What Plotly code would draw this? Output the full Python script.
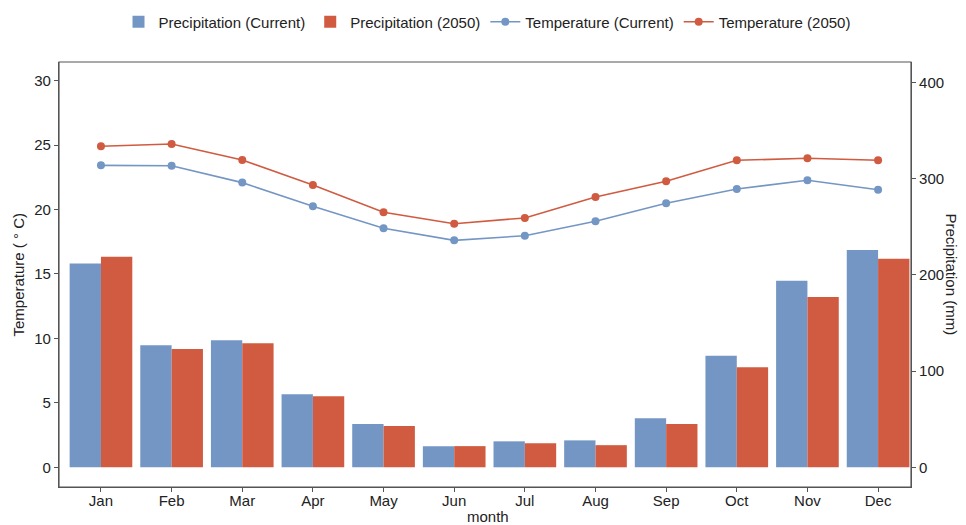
import plotly.graph_objects as go

months = ["Jan", "Feb", "Mar", "Apr", "May", "Jun", "Jul", "Aug", "Sep", "Oct", "Nov", "Dec"]
precip_current = [212, 127, 132, 76, 45, 22, 27, 28, 51, 116, 194, 226]
precip_2050 = [219, 123, 129, 74, 43, 22, 25, 23, 45, 104, 177, 217]
temp_current = [23.43, 23.40, 22.09, 20.25, 18.55, 17.61, 17.97, 19.09, 20.49, 21.60, 22.27, 21.54]
temp_2050 = [24.91, 25.09, 23.85, 21.90, 19.79, 18.90, 19.35, 20.97, 22.19, 23.82, 23.98, 23.82]

temp_ticks = [0, 5, 10, 15, 20, 25, 30]
precip_ticks = [0, 100, 200, 300, 400]

BLUE = "#7496C4"
RED = "#D05B40"
FONT = "Liberation Sans, Arial, sans-serif"
TXT = "#222222"

# page body has an 8px default margin, so the figure is sized to fit the window
W, H = 958, 517

fig = go.Figure()
fig.add_trace(go.Bar(x=months, y=precip_current, name="Precipitation (Current)",
                     marker=dict(color=BLUE, line=dict(width=0)), yaxis="y2"))
fig.add_trace(go.Bar(x=months, y=precip_2050, name="Precipitation (2050)",
                     marker=dict(color=RED, line=dict(width=0)), yaxis="y2"))
fig.add_trace(go.Scatter(x=months, y=temp_current, name="Temperature (Current)",
                         mode="lines+markers", line=dict(color=BLUE, width=1.6),
                         marker=dict(color=BLUE, size=8), yaxis="y"))
fig.add_trace(go.Scatter(x=months, y=temp_2050, name="Temperature (2050)",
                         mode="lines+markers", line=dict(color=RED, width=1.6),
                         marker=dict(color=RED, size=8), yaxis="y"))

axis_common = dict(showline=True, linecolor="#555555", linewidth=1.2, mirror=False,
                   ticks="outside", ticklen=4, tickcolor="#555555", showgrid=False,
                   zeroline=False, automargin=False,
                   tickfont=dict(family=FONT, size=15, color=TXT))

title_font = dict(family=FONT, size=15, color=TXT)

fig.update_layout(
    width=W, height=H,
    margin=dict(l=51, r=55, t=54, b=38, autoexpand=False),
    paper_bgcolor="white", plot_bgcolor="white",
    font=dict(family=FONT, size=15, color=TXT),
    barmode="group", bargap=0.113, bargroupgap=0,
    showlegend=True,
    legend=dict(orientation="h", x=0.5, xref="container", xanchor="center",
                y=1 - 14 / H, yref="container", yanchor="middle",
                font=dict(family=FONT, size=15, color=TXT), itemwidth=30,
                traceorder="normal"),
    xaxis=dict(**axis_common, type="category", range=[-0.594, 11.466],
               ticklabelstandoff=-4),
    yaxis=dict(**axis_common, range=[-1.53, 31.45], tickvals=temp_ticks),
    yaxis2=dict(**axis_common, overlaying="y", side="right", range=[-20.5, 421.5],
                tickvals=precip_ticks),
    shapes=[dict(type="rect", xref="paper", yref="paper", x0=0, y0=0, x1=1, y1=1,
                 line=dict(color="#555555", width=1.2), fillcolor="rgba(0,0,0,0)", layer="above")],
    annotations=[
        dict(text="Precipitation (mm)", xref="paper", yref="paper", x=1.0,
             xshift=40, y=0.5, textangle=90, showarrow=False,
             xanchor="center", yanchor="middle", font=title_font),
        dict(text="Temperature ( ° C)", xref="paper", yref="paper", x=0.0,
             xshift=-41, y=0.5, textangle=-90, showarrow=False,
             xanchor="center", yanchor="middle", font=title_font),
        dict(text="month", xref="paper", yref="paper", x=0.5, xshift=3,
             y=0.0, yshift=-29, showarrow=False,
             xanchor="center", yanchor="middle", font=title_font),
    ],
)

fig.write_html("out.html")
